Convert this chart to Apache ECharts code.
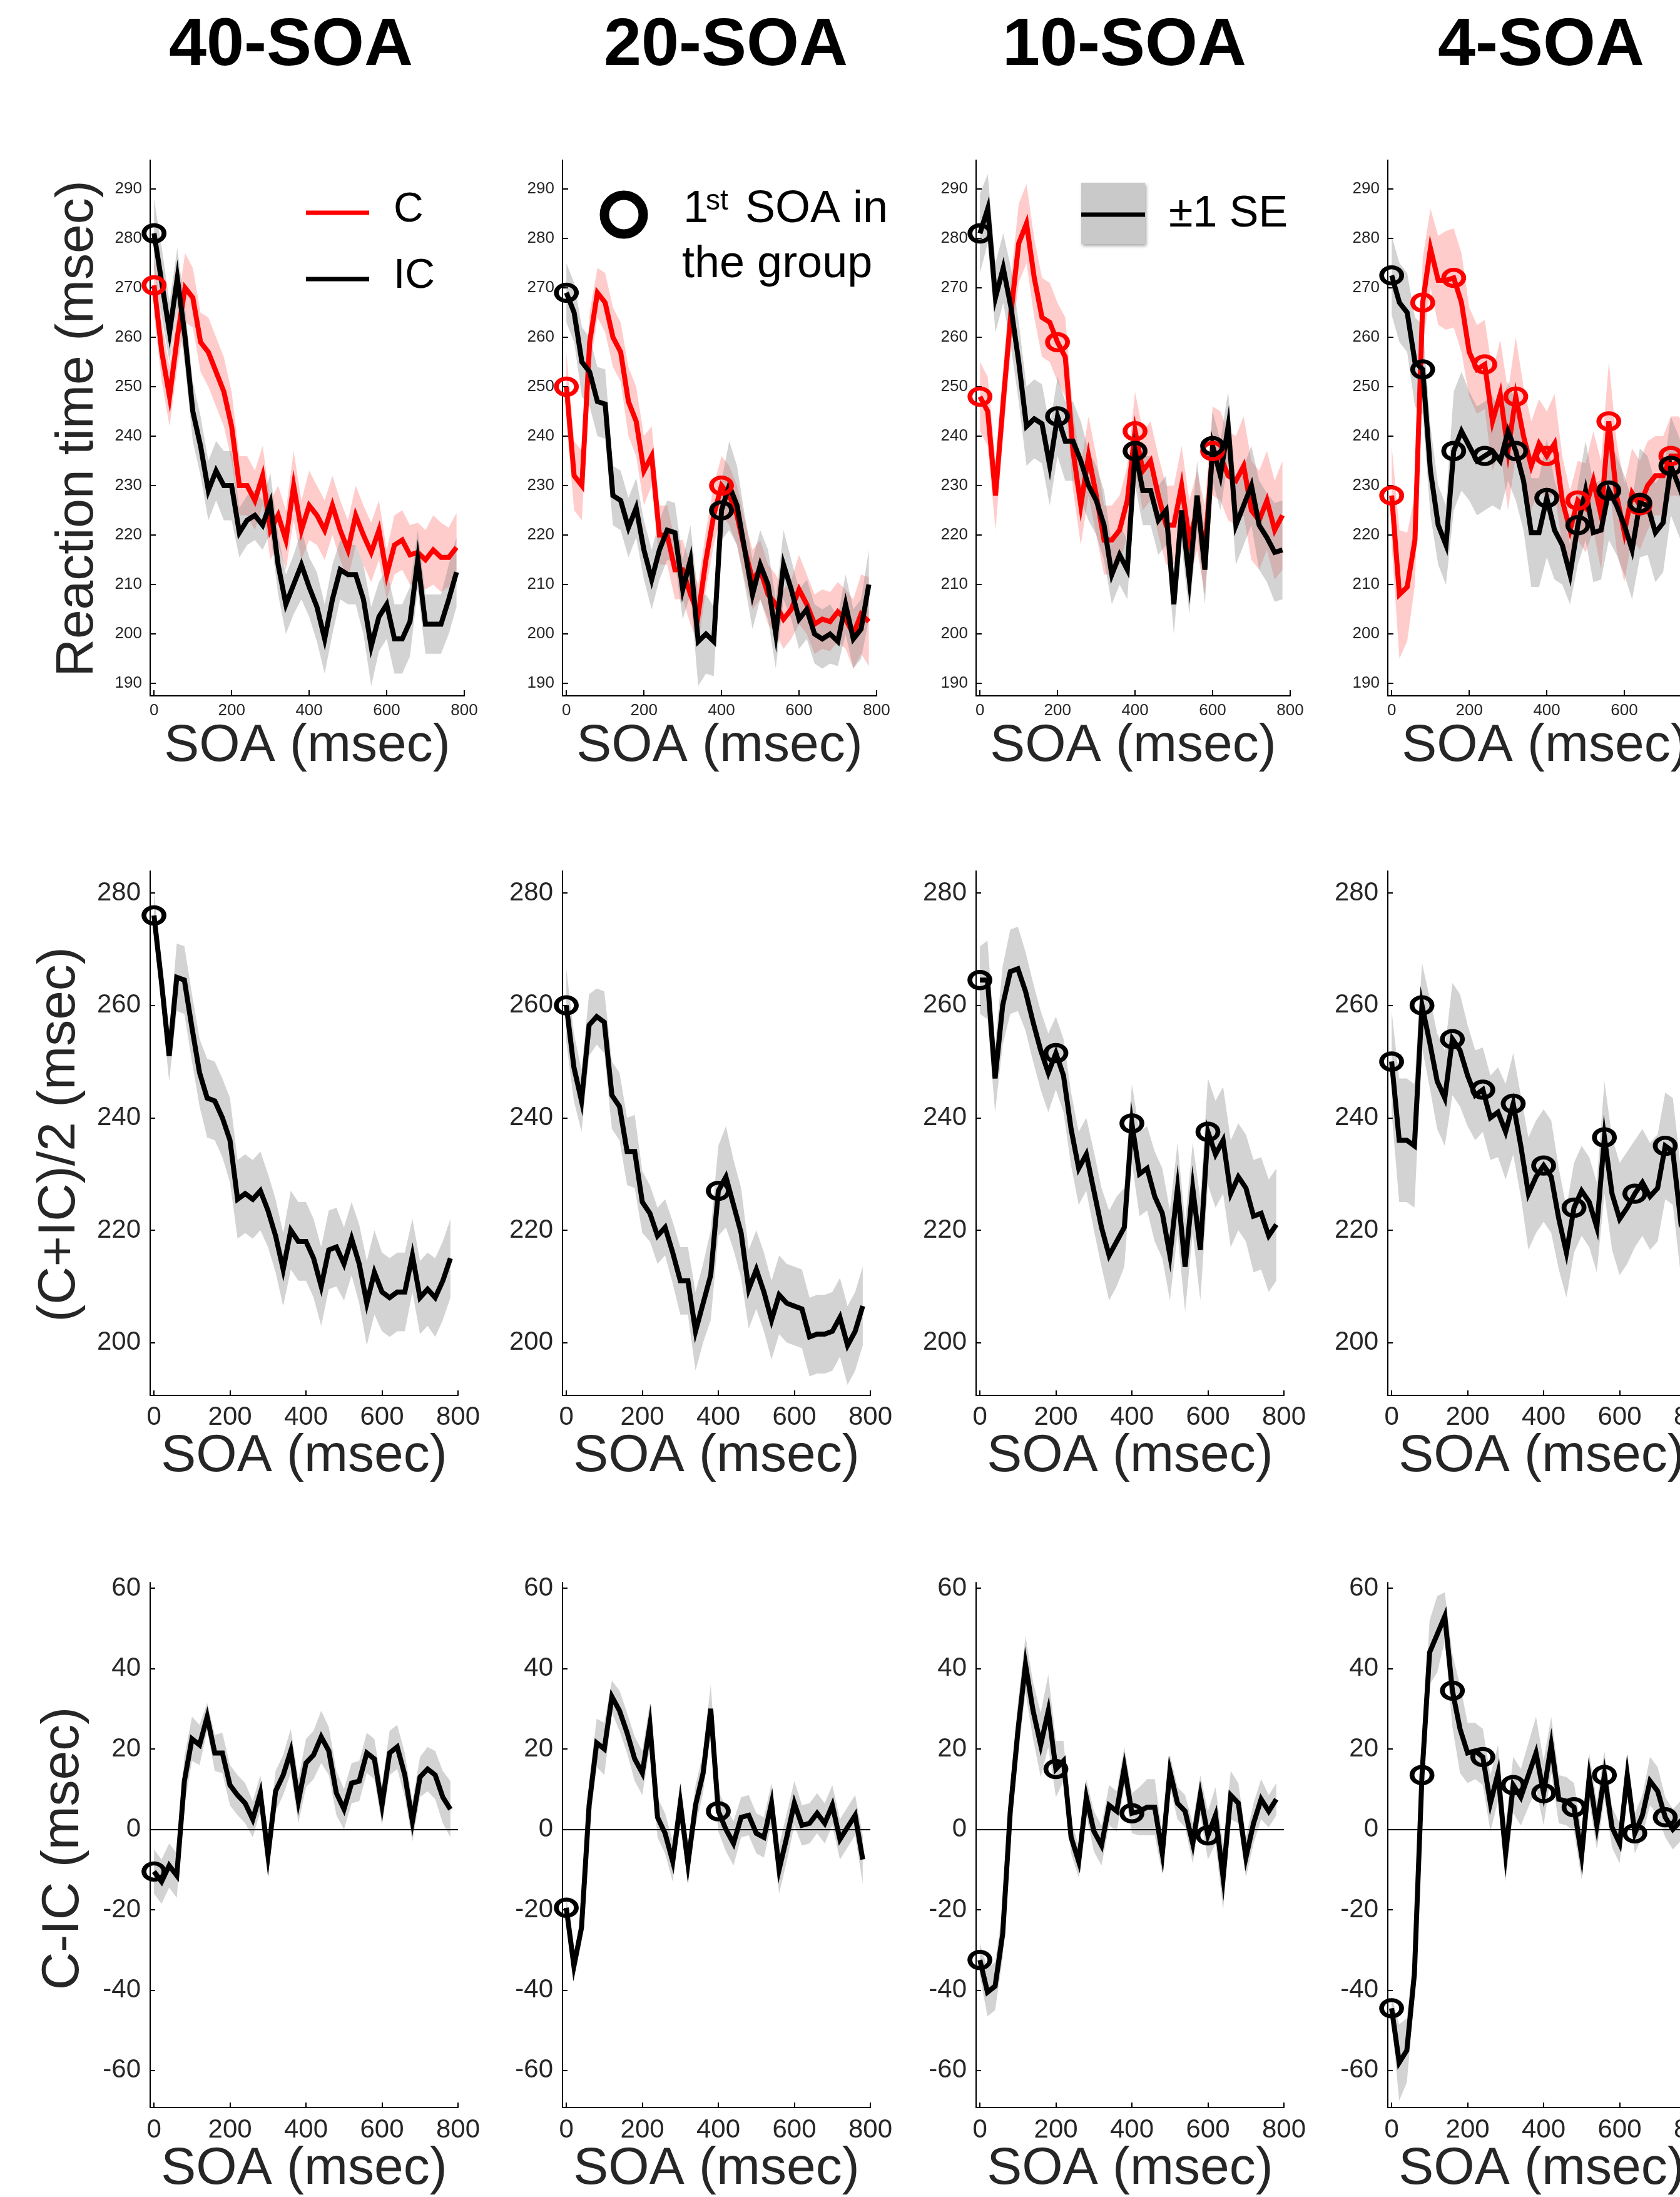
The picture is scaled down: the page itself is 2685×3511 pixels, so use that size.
<!DOCTYPE html>
<html>
<head>
<meta charset="utf-8">
<script src="https://cdn.jsdelivr.net/npm/echarts@6/dist/echarts.min.js"></script>
<style>
  html, body { margin: 0; padding: 0; background: #fff; overflow: hidden; }
  #chart { width: 2760px; height: 3511px; }
</style>
</head>
<body>
<div id="chart"></div>
<script>
// SOA values (msec), one point every 20 ms
const soa = [0, 20, 40, 60, 80, 100, 120, 140, 160, 180, 200, 220, 240, 260, 280, 300, 320, 340, 360, 380,
             400, 420, 440, 460, 480, 500, 520, 540, 560, 580, 600, 620, 640, 660, 680, 700, 720, 740, 760, 780];

const columnTitles = ['40-SOA', '20-SOA', '10-SOA', '4-SOA'];

// first SOA of each group (circles)
const starts40 = [0];
const starts20 = [0, 400];
const starts10 = [0, 200, 400, 600];
const starts4 = [0, 80, 160, 240, 320, 400, 480, 560, 640, 720];

// row 1: reaction time, congruent (C) and incongruent (IC)
const c40 = [270.5, 257, 248, 260, 270, 268, 259, 257, 253, 249, 242, 230, 230, 227, 232, 221, 224, 219, 230, 221,
             226, 224, 221, 226, 221, 217, 224, 220, 216.5, 221, 212, 218, 219, 216, 216.5, 215, 217, 215.5, 215.5, 217.5];
const ic40 = [281, 271, 261, 272, 260, 245, 238, 229, 233, 230, 230, 220.5, 223, 224, 222, 226.5, 214, 206, 210, 214,
              209.5, 205.5, 199, 207, 213, 212, 212, 207, 197.5, 203.5, 206, 199, 199, 202.5, 215, 202, 202, 202, 207, 212.5];
const c20 = [250, 232, 230, 259, 269, 267, 260, 257, 247, 243, 233, 236, 220, 220, 213, 213, 208, 204, 215, 224,
             230, 228, 224, 217, 211, 213, 208, 206, 203, 205, 209, 206, 202, 203, 202.5, 204.5, 203, 200, 204, 202.5];
const ic20 = [269, 265, 255, 253, 247, 246.5, 228, 227, 221.5, 225.5, 217, 211, 217, 221, 220.5, 209, 215, 198.5, 200, 198.5,
              225, 230, 226, 217, 208, 214, 210, 200, 214, 209, 203, 205, 200, 199, 200, 198.5, 206, 199, 201, 210];
const c10 = [248, 245, 228, 247, 265, 279, 283, 272, 264, 263, 259, 256, 237, 226, 236, 228, 219, 219, 221, 227,
             241, 233, 235, 228, 222, 222, 230, 219, 225, 217, 237, 236, 232, 231, 234, 225, 223, 227, 221, 224];
const ic10 = [281, 286, 268, 274, 266, 255, 242, 243.5, 242.5, 234, 244, 239, 239, 235, 230, 227, 222, 212, 216, 213,
              237, 229, 229, 223, 225, 206, 225, 211, 228, 213, 238, 232, 242, 222, 226, 230, 222, 219.5, 216.5, 217];
const c4 = [228, 208, 209.5, 219, 267, 278, 271.5, 271.5, 272, 267, 257, 253.5, 254.5, 243, 248.5, 237, 248, 240, 234, 238.5,
            236, 238.5, 227, 221, 227, 225.5, 231, 224, 243, 228, 220.5, 228.5, 226, 230, 232, 232, 236, 236, 234, 232];
const ic4 = [272.5, 267, 265, 255, 253.5, 233, 222, 218, 237, 241, 238, 235, 236, 237, 235, 241, 237, 231, 220.5, 220.5,
             227.5, 221, 218, 212, 222, 229, 220.5, 221, 229, 226, 222, 217, 226.5, 226, 220.5, 222.5, 234, 230, 226, 225];

const seC40 = [6, 6, 6, 6, 7, 6, 6, 7, 7, 7, 7, 6, 6, 6, 6, 6, 6, 6, 7, 6, 7, 6, 6, 6, 6, 6, 6, 6, 6, 6, 5, 6, 6, 6, 6, 6, 7, 7, 6, 7];
const seIC40 = [7, 7, 6, 6, 6, 6, 6, 6, 6, 7, 7, 5, 5, 5, 5, 6, 6, 6, 6, 7, 6, 7, 7, 7, 6, 6, 6, 7, 8, 7, 7, 7, 7, 7, 6, 6, 6, 6, 7, 7];
const seC20 = [7, 7, 7, 6, 5, 6, 6, 6, 7, 7, 7, 6, 6, 6, 6, 6, 6, 6, 6, 6, 6, 6, 6, 6, 6, 6, 6, 6, 6, 6, 7, 6, 6, 6, 6, 6, 6, 7, 8, 9];
const seIC20 = [6, 6, 7, 7, 7, 7, 6, 6, 6, 6, 6, 6, 6, 6, 6, 6, 7, 9, 8, 7, 6, 9, 8, 7, 7, 7, 7, 7, 7, 6, 6, 6, 6, 6, 6, 5, 6, 6, 6, 7];
const seC10 = [7, 7, 7, 7, 7, 8, 8, 8, 8, 8, 8, 8, 8, 8, 8, 8, 7, 7, 7, 7, 8, 8, 8, 8, 8, 8, 8, 8, 8, 9, 9, 9, 9, 9, 10, 10, 10, 10, 10, 11];
const seIC10 = [8, 7, 7, 7, 8, 8, 8, 8, 8, 8, 8, 8, 8, 8, 7, 7, 7, 6, 6, 6, 7, 7, 7, 7, 7, 6, 7, 7, 7, 7, 7, 7, 7, 8, 8, 8, 9, 9, 10, 10];
const seC4 = [10, 13, 11, 9, 9, 8, 9, 10, 10, 10, 9, 9, 9, 10, 11, 12, 12, 10, 9, 9, 9, 10, 9, 8, 8, 9, 10, 11, 12, 11, 10, 9, 9, 9, 8, 8, 8, 8, 8, 8];
const seIC4 = [8, 8, 8, 9, 9, 9, 8, 8, 12, 12, 11, 11, 11, 11, 10, 10, 10, 10, 11, 11, 12, 10, 8, 6, 8, 10, 10, 10, 10, 10, 10, 10, 11, 10, 10, 10, 10, 10, 10, 10];

// row 2: (C+IC)/2
const avg40 = [276, 264, 251, 265, 264.5, 256, 248, 243.5, 243, 240, 236, 225.5, 226.5, 225.5, 227, 223.5, 219, 213, 220, 218,
               218, 215, 210, 216.5, 217, 214, 218.5, 214, 207, 212.5, 209, 208, 209, 209, 215.5, 208, 209.5, 208, 211, 215];
const avg20 = [260, 249, 243, 256.5, 258, 257, 244, 242, 234, 234, 225, 223, 219, 220.5, 216, 211, 211, 202, 207, 212,
               227, 229.5, 224.5, 219.5, 209.5, 213, 209, 204, 208.5, 207, 206.5, 206, 201, 201.5, 201.5, 202, 204.5, 199.5, 202, 206.5];
const avg10 = [264.5, 264.5, 247, 260, 266, 266.5, 262.5, 257, 252, 248, 251.5, 247.5, 238, 231, 233.5, 227, 220.5, 215.5, 218, 220.5,
               239, 230, 231, 226, 223, 215.5, 227.5, 213.5, 227.5, 216.5, 237.5, 233.5, 236, 226.5, 229.5, 227.5, 222.5, 223, 219, 221];
const avg4 = [250, 236, 236, 235, 260, 253.5, 246.5, 243.5, 254, 252, 247.5, 244, 245, 240, 241, 237.5, 242.5, 235, 226.5, 229.5,
              231.5, 229.5, 222, 216, 224, 227, 225, 220.5, 236.5, 226.5, 222, 224, 226.5, 228.5, 226, 227.5, 235, 234, 222, 225];
const seAvg40 = [4, 4, 4.5, 6, 6, 6, 6, 7, 7, 7, 7.5, 7, 7, 7, 7, 6.5, 6.5, 6.5, 7, 7, 7, 7, 7, 7, 7, 6.5, 6.5, 7, 7.5, 7.5, 7, 7, 7, 7, 6.5, 6.5, 6.5, 7, 7, 7];
const seAvg20 = [6.5, 6, 5.5, 5.5, 5, 5.5, 6, 6, 6, 6.5, 5.5, 5, 5, 5, 5.5, 6, 6, 7, 7, 8, 8, 9, 8, 8, 7, 7, 7, 7, 7, 7, 7, 7, 7, 7, 7, 7, 7, 7, 7, 7];
const seAvg10 = [6, 7, 6, 7, 7.5, 7.5, 7, 7, 7, 7, 6.5, 6.5, 6.5, 6.5, 6.5, 7, 7, 8, 8, 7, 7, 7.5, 7.5, 8, 8, 8, 8, 8, 8, 9, 9.5, 9.5, 9.5, 9.5, 9.5, 9.5, 10, 10, 10, 10];
const seAvg4 = [9, 11, 11, 11, 7.5, 8, 8.5, 8.5, 10, 10, 9, 8, 7.5, 7.5, 8, 8.5, 9, 9, 10, 10, 10, 10, 9, 8, 8, 8, 8, 8, 10, 10, 10, 10, 9.5, 9.5, 9.5, 9.5, 9.5, 9.5, 9.5, 9.5];

// row 3: C-IC
const diff40 = [-10.5, -13, -9, -11.5, 12, 22.5, 21, 28, 19, 19, 11, 8.5, 6.5, 2.5, 9, -6.5, 9.5, 13.5, 19.5, 7,
                16.5, 18.5, 23, 19.5, 9, 5, 11.5, 12, 19, 17.5, 6, 19, 20.5, 13.5, 2, 13, 15, 13.5, 8, 5];
const diff20 = [-19.5, -34, -24.5, 6, 21.5, 20, 33, 29.5, 24, 17.5, 14, 26, 3, -1, -8, 6.5, -8.5, 6, 14, 30,
                4.5, 0, -3.5, 3, 3.5, -1, -2, 6.5, -10, -2, 6.5, 1, 1.5, 4, 1.5, 6, -2.5, 0.5, 3.5, -7.5];
const diff10 = [-32.5, -40.5, -39, -26, 4.5, 24.5, 41, 29.5, 21, 29.5, 15, 17, -2, -8, 8, -0.5, -4, 6, 4.5, 15.5,
                4, 4.5, 5.5, 5.5, -6, 14.5, 6.5, 4.5, -3.5, 8.5, -1.5, 3.5, -12, 8.5, 6.5, -7, 1.5, 7.5, 4.5, 7.5];
const diff4 = [-44.5, -58, -55, -36, 13.5, 44, 48.5, 53, 34.5, 25, 19, 19.5, 18, 6.5, 14, -6, 11, 8, 13.5, 19,
               9, 21, 7.5, 7, 5.5, -6.5, 13, 1, 13.5, 0.5, -3.5, 13.5, -1, 3.5, 12, 9.5, 3, 0, 2, 3];
const seDiff40 = [5.5, 5.5, 5.5, 5.5, 6, 5.5, 5, 3.5, 4.5, 5, 5, 5, 5, 4.5, 4.5, 4.5, 5, 5, 5.5, 5.5, 6, 6, 6.5, 6, 5.5, 5, 5, 5, 5, 5, 5, 5.5, 5.5, 5.5, 5, 5, 5.5, 6, 6.5, 7];
const seDiff20 = [3, 3, 3.5, 6, 6, 6.5, 4, 5, 5, 5.5, 5.5, 5.5, 5, 5, 5, 5, 5, 5, 5, 6, 5, 5.5, 5.5, 5, 5, 5, 5, 5, 6, 6, 5.5, 5, 5, 5, 5, 5, 5, 5, 5, 6];
const seDiff10 = [4, 6, 6, 6, 6, 7, 7, 7, 8, 9, 7, 5, 4, 4, 4.5, 5, 5, 5, 5, 5, 5, 6, 7, 7, 5, 4, 4, 4, 5, 5, 6, 7, 8, 6, 5, 5, 5, 5, 4, 4];
const seDiff4 = [3, 9.5, 8, 6, 7, 8, 9.5, 6, 9, 11, 7.5, 7, 7, 7, 7, 7, 7, 7, 8, 9, 8, 7, 6, 6, 6, 6, 6, 6, 6, 5, 5, 5, 5, 5, 6, 6, 5, 5, 5, 5];

// tick labels
const soaTicks = [0, 200, 400, 600, 800];
const rtTicks = [190, 200, 210, 220, 230, 240, 250, 260, 270, 280, 290];
const avgTicks = [200, 220, 240, 260, 280];
const diffTicks = [-60, -40, -20, 0, 20, 40, 60];

const FONT = '"Liberation Sans", Arial, Helvetica, sans-serif';
const RED = '#ff0000';
const BLACK = '#000000';
const PINK_BAND = 'rgba(255,0,0,0.2)';
const GRAY_BAND = 'rgba(128,128,128,0.35)';

const colLeft = [240, 899, 1560, 2218];
const rows = [
  { top: 256, height: 856, width: 502, min: 187.5, max: 295.8, ticks: rtTicks, size: 26, xMargin: 11, yMargin: 13, tickLen: 9 },
  { top: 1392, height: 838, width: 492, min: 190.6, max: 283.9, ticks: avgTicks, size: 42, xMargin: 14, yMargin: 15, tickLen: 8 },
  { top: 2529, height: 839, width: 492, min: -69.2, max: 61.4, ticks: diffTicks, size: 42, xMargin: 15, yMargin: 15, tickLen: 8 }
];

const cols = [
  { c: c40, ic: ic40, seC: seC40, seIC: seIC40, avg: avg40, seAvg: seAvg40, diff: diff40, seDiff: seDiff40, starts: starts40 },
  { c: c20, ic: ic20, seC: seC20, seIC: seIC20, avg: avg20, seAvg: seAvg20, diff: diff20, seDiff: seDiff20, starts: starts20 },
  { c: c10, ic: ic10, seC: seC10, seIC: seIC10, avg: avg10, seAvg: seAvg10, diff: diff10, seDiff: seDiff10, starts: starts10 },
  { c: c4, ic: ic4, seC: seC4, seIC: seIC4, avg: avg4, seAvg: seAvg4, diff: diff4, seDiff: seDiff4, starts: starts4 }
];

const grids = [], xAxes = [], yAxes = [], series = [];

function bandSeries(k, mean, se, color) {
  return {
    type: 'custom', xAxisIndex: k, yAxisIndex: k, silent: true, z: 1,
    data: [[soa[0], mean[0]]],
    renderItem: function (params, api) {
      const upper = soa.map((x, i) => api.coord([x, mean[i] + se[i]]));
      const lower = soa.map((x, i) => api.coord([x, mean[i] - se[i]])).reverse();
      return { type: 'polygon', shape: { points: upper.concat(lower) }, style: { fill: color } };
    }
  };
}

function lineSeries(k, mean, color) {
  return {
    type: 'line', xAxisIndex: k, yAxisIndex: k, silent: true, z: 3,
    data: soa.map((x, i) => [x, mean[i]]),
    symbol: 'none', showSymbol: false, color: color,
    lineStyle: { color: color, width: 8, join: 'miter' }
  };
}

function markerSeries(k, mean, starts, color) {
  return {
    type: 'scatter', xAxisIndex: k, yAxisIndex: k, silent: true, z: 4,
    data: starts.map(s => [s, mean[soa.indexOf(s)]]),
    symbol: 'circle', symbolSize: [32, 26],
    itemStyle: { color: 'rgba(0,0,0,0)', borderColor: color, borderWidth: 7, opacity: 1 }
  };
}

rows.forEach((r, ri) => {
  cols.forEach((col, ci) => {
    const k = ri * 4 + ci;
    grids.push({ left: colLeft[ci], top: r.top, width: r.width, height: r.height, containLabel: false });
    xAxes.push({
      type: 'value', gridIndex: k, min: -10, max: 800,
      axisLine: { show: true, onZero: false, lineStyle: { color: '#000', width: 2 } },
      axisTick: { show: true, inside: true, length: r.tickLen, customValues: soaTicks, lineStyle: { color: '#000', width: 2 } },
      axisLabel: { show: true, customValues: soaTicks, fontSize: r.size, fontFamily: FONT, color: '#262626', margin: r.xMargin },
      splitLine: { show: false }
    });
    yAxes.push({
      type: 'value', gridIndex: k, min: r.min, max: r.max,
      axisLine: { show: true, onZero: false, lineStyle: { color: '#000', width: 2 } },
      axisTick: { show: true, inside: true, length: r.tickLen, customValues: r.ticks, lineStyle: { color: '#000', width: 2 } },
      axisLabel: { show: true, customValues: r.ticks, fontSize: r.size, fontFamily: FONT, color: '#262626', margin: r.yMargin },
      splitLine: { show: false }
    });

    if (ri === 0) {
      series.push(bandSeries(k, col.c, col.seC, PINK_BAND));
      series.push(bandSeries(k, col.ic, col.seIC, GRAY_BAND));
      series.push(lineSeries(k, col.c, RED));
      series.push(lineSeries(k, col.ic, BLACK));
      series.push(markerSeries(k, col.c, col.starts, RED));
      series.push(markerSeries(k, col.ic, col.starts, BLACK));
    } else if (ri === 1) {
      series.push(bandSeries(k, col.avg, col.seAvg, GRAY_BAND));
      series.push(lineSeries(k, col.avg, BLACK));
      series.push(markerSeries(k, col.avg, col.starts, BLACK));
    } else {
      series.push(bandSeries(k, col.diff, col.seDiff, GRAY_BAND));
      const l = lineSeries(k, col.diff, BLACK);
      l.markLine = {
        silent: true, symbol: 'none', animation: false,
        label: { show: false },
        lineStyle: { color: '#000', width: 2, type: 'solid' },
        data: [{ yAxis: 0 }]
      };
      series.push(l);
      series.push(markerSeries(k, col.diff, col.starts, BLACK));
    }
  });
});

function text(str, x, y, size, extra) {
  return {
    type: 'text', x: x, y: y, silent: true,
    style: Object.assign({ text: str, font: size + 'px ' + FONT, fill: '#262626', align: 'center', verticalAlign: 'middle' }, extra || {})
  };
}

const graphics = [];
// column titles
const titleX = [465, 1160, 1797, 2463];
columnTitles.forEach((t, i) => {
  graphics.push(text(t, titleX[i], 74, 0, { font: 'bold 108px ' + FONT, fill: '#000' }));
});
// x axis names
const nameY = [1193, 2328, 3467];
rows.forEach((r, ri) => {
  colLeft.forEach(left => {
    graphics.push(text('SOA (msec)', left + r.width / 2, nameY[ri], 84));
  });
});
// y axis names
[['Reaction time (msec)', 125, 685], ['(C+IC)/2 (msec)', 96, 1813], ['C-IC (msec)', 102, 2954]].forEach(([s, x, y]) => {
  const t = text(s, x, y, 84);
  t.rotation = Math.PI / 2;
  graphics.push(t);
});

// legend: C / IC
graphics.push({ type: 'line', silent: true, shape: { x1: 489, y1: 340, x2: 590, y2: 340 }, style: { stroke: RED, lineWidth: 7 } });
graphics.push({ type: 'line', silent: true, shape: { x1: 489, y1: 446, x2: 590, y2: 446 }, style: { stroke: BLACK, lineWidth: 7 } });
graphics.push(text('C', 629, 336, 66, { align: 'left', fill: '#000' }));
graphics.push(text('IC', 629, 442, 66, { align: 'left', fill: '#000' }));

// legend: 1st SOA in the group
graphics.push({ type: 'circle', silent: true, shape: { cx: 997, cy: 343, r: 31 }, style: { fill: 'rgba(0,0,0,0)', stroke: '#000', lineWidth: 15 } });
graphics.push(text('1', 1092, 335, 72, { align: 'left', fill: '#000' }));
graphics.push(text('st', 1128, 322, 46, { align: 'left', fill: '#000' }));
graphics.push(text('SOA in', 1191, 335, 72, { align: 'left', fill: '#000' }));
graphics.push(text('the group', 1090, 423, 72, { align: 'left', fill: '#000' }));

// legend: ±1 SE
graphics.push({ type: 'rect', silent: true, shape: { x: 1728, y: 292, width: 102, height: 98 },
  style: { fill: '#c9c9c9', shadowBlur: 5, shadowColor: 'rgba(0,0,0,0.35)', shadowOffsetX: 2, shadowOffsetY: 3 } });
graphics.push({ type: 'line', silent: true, shape: { x1: 1728, y1: 343, x2: 1830, y2: 343 }, style: { stroke: '#000', lineWidth: 7 } });
graphics.push(text('\u00b11 SE', 1868, 343, 70, { align: 'left', fill: '#000' }));

const chart = echarts.init(document.getElementById('chart'), null, { renderer: 'canvas' });
chart.setOption({
  animation: false,
  backgroundColor: '#ffffff',
  grid: grids,
  xAxis: xAxes,
  yAxis: yAxes,
  series: series,
  graphic: graphics
});
</script>
</body>
</html>
